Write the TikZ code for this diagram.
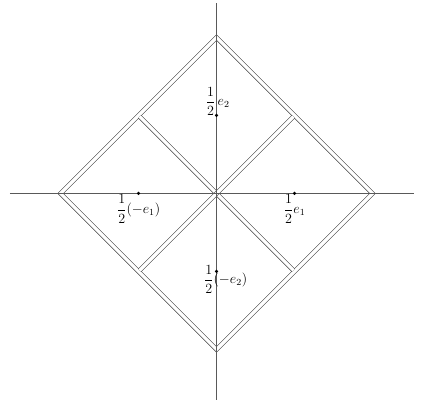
\documentclass[tikz,border=0pt]{standalone}
\usepackage{amsmath}
\usetikzlibrary{positioning}

\begin{document}
\begin{tikzpicture}[x=4.68cm,y=4.68cm]
\tikzset{wall/.style={draw=black!75, line width=0.5pt, double=white, double distance=2.8pt},
  axis/.style={black!65, line width=0.6pt},
  lbl/.style={inner sep=1pt, font=\large}}
\useasboundingbox (-1.388,-1.337) rectangle (1.330,1.240);
% the l1 unit ball, cut into four squares
\draw[wall] (1,0) -- (0,1) -- (-1,0) -- (0,-1) -- cycle;
\draw[wall, shorten <=1.4pt, shorten >=1.4pt] (-0.5,0.5) -- (0.5,-0.5);
\draw[wall, shorten <=1.4pt, shorten >=1.4pt] (0.5,0.5) -- (-0.5,-0.5);
% axes
\draw[axis] (-1.324,0) -- (1.266,0);
\draw[axis] (0,-1.324) -- (0,1.221);
% centres of the squares
\coordinate (c1) at (0.5,0);
\coordinate (c2) at (0,0.5);
\coordinate (c3) at (-0.5,0);
\coordinate (c4) at (0,-0.5);
\fill (c1) circle (1.5pt);
\fill (c2) circle (1.5pt);
\fill (c3) circle (1.5pt);
\fill (c4) circle (1.5pt);
\node[lbl, anchor=north] (l1) at (c1) {$\dfrac{1}{2}e_1$};
\node[lbl, anchor=south, xshift=1pt, inner sep=0pt] (l2) at (c2) {$\dfrac{1}{2}\,e_2$};
\node[lbl, anchor=north] (l3) at (c3) {$\dfrac{1}{2}(-e_1)$};
\node[lbl, anchor=north west] (l4) at (-0.09,-0.45) {$\dfrac{1}{2}(-e_2)$};
\end{tikzpicture}
\end{document}
